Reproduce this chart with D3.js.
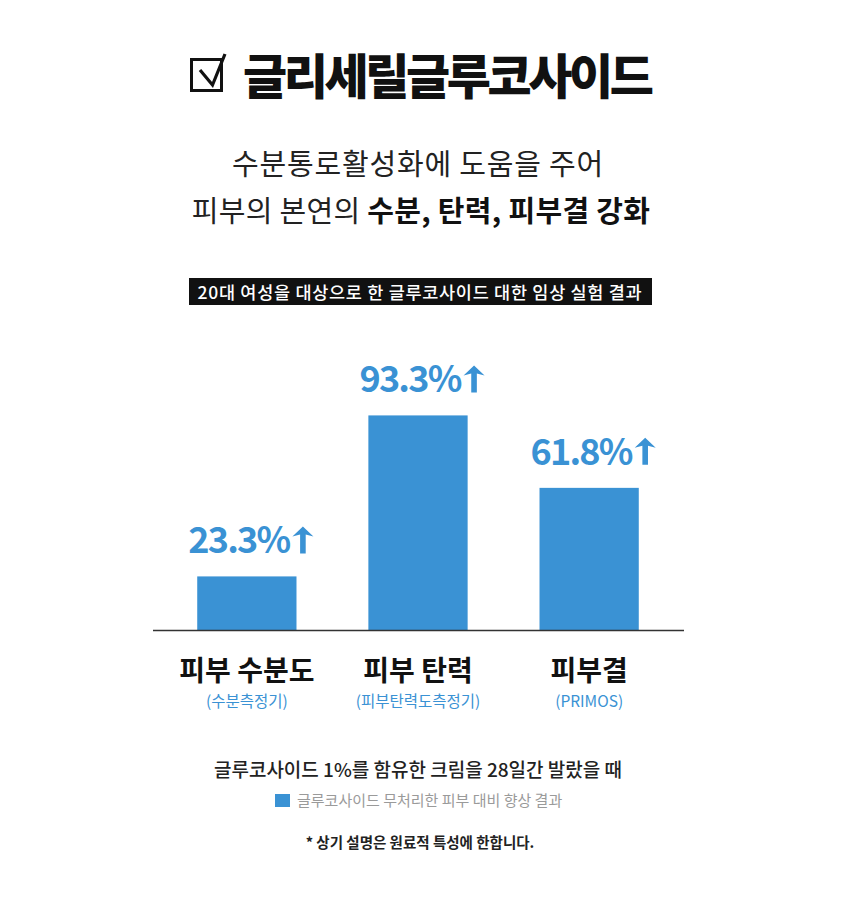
<!DOCTYPE html>
<html><head><meta charset="utf-8">
<script src="https://cdn.jsdelivr.net/npm/d3@7"></script>
<style>
html,body{margin:0;padding:0;background:#fff;}
svg{display:block;font-family:"Noto Sans CJK KR","Noto Sans",sans-serif;}
</style></head>
<body>
<svg id="c" width="848" height="924"></svg>
<script>
const categories = ["피부 수분도", "피부 탄력", "피부결"];
const instruments = ["(수분측정기)", "(피부탄력도측정기)", "(PRIMOS)"];
const values = [23.3, 93.3, 61.8];
const titleText = "글리세릴글루코사이드";
const subtitle1 = "수분통로활성화에 도움을 주어";
const subtitle2Plain = "피부의 본연의 ";
const subtitle2Bold = "수분, 탄력, 피부결 강화";
const bannerText = "20대 여성을 대상으로 한 글루코사이드 대한 임상 실험 결과";
const conditionText = "글루코사이드 1%를 함유한 크림을 28일간 발랐을 때";
const legendText = "글루코사이드 무처리한 피부 대비 향상 결과";
const footnoteText = "* 상기 설명은 원료적 특성에 한합니다.";

const BLUE = "#3a92d4";
const svg = d3.select("#c");
const cx = 420;

// Title with checkbox
const tg = svg.append("g");
tg.append("rect").attr("x",191.5).attr("y",59.5).attr("width",30).attr("height",31)
  .attr("fill","none").attr("stroke","#111").attr("stroke-width",3);
tg.append("path").attr("d","M200,70 L212.5,85 L225,54")
  .attr("fill","none").attr("stroke","#111").attr("stroke-width",3.2).attr("stroke-linejoin","miter");
tg.append("text").attr("x",243).attr("y",94)
  .attr("font-size",48).attr("font-weight",900).attr("letter-spacing","-3.4px")
  .attr("fill","#111").text(titleText);

// Subtitles
svg.append("text").attr("x",cx-2).attr("y",175).attr("text-anchor","middle")
  .attr("font-size",29).attr("font-weight",400).attr("letter-spacing","0.8px").attr("fill","#222")
  .text(subtitle1);
const s2 = svg.append("text").attr("x",cx+1).attr("y",222).attr("text-anchor","middle")
  .attr("font-size",29).attr("letter-spacing","0.3px").attr("fill","#222");
s2.append("tspan").attr("font-weight",400).text(subtitle2Plain);
s2.append("tspan").attr("font-weight",700).attr("fill","#111").text(subtitle2Bold);

// Banner
svg.append("rect").attr("x",189).attr("y",278).attr("width",463).attr("height",27).attr("fill","#111");
svg.append("text").attr("x",cx).attr("y",299).attr("text-anchor","middle")
  .attr("font-size",17.5).attr("font-weight",500).attr("letter-spacing","0.7px").attr("fill","#fff")
  .text(bannerText);

// Chart
const baseY = 630;
const x = d3.scaleBand().domain(categories).range([163, 673]).paddingInner(0.42).paddingOuter(0.2);
const y = d3.scaleLinear().domain([0, 100]).range([baseY, baseY - 230]);

svg.selectAll("rect.bar").data(values).join("rect").attr("class","bar")
  .attr("x",(d,i)=>x(categories[i])).attr("width",x.bandwidth())
  .attr("y",d=>y(d)).attr("height",d=>baseY - y(d)).attr("fill",BLUE);

svg.append("line").attr("x1",153).attr("x2",684).attr("y1",baseY+0.5).attr("y2",baseY+0.5)
  .attr("stroke","#333").attr("stroke-width",1.6);

// Value labels with arrows
values.forEach((v,i)=>{
  const bx = x(categories[i]) + x.bandwidth()/2;
  const ty = y(v) - 23;
  const g = svg.append("g");
  const t = g.append("text").attr("x",0).attr("y",ty)
    .attr("font-size",36).attr("font-weight",700).attr("letter-spacing","-1.8px").attr("fill",BLUE)
    .text(v.toFixed(1) + "%");
  const w = t.node().getComputedTextLength();
  const W = w + 3 + 21;
  const x0 = bx + 4 - W/2;
  t.attr("x", x0);
  const ax = x0 + w + 3 + 10.5;
  const top = ty - 27;
  g.append("path")
    .attr("d",`M${ax-10.5},${top+10} L${ax},${top} L${ax+10.5},${top+10} L${ax+2.8},${top+8} L${ax+2.8},${ty} L${ax-2.8},${ty} L${ax-2.8},${top+8} Z`)
    .attr("fill",BLUE);
});

// Category labels
svg.selectAll("text.cat").data(categories).join("text").attr("class","cat")
  .attr("x",d=>x(d)+x.bandwidth()/2).attr("y",681).attr("text-anchor","middle")
  .attr("font-size",28).attr("font-weight",700).attr("letter-spacing","0px").attr("fill","#111")
  .text(d=>d);
svg.selectAll("text.inst").data(instruments).join("text").attr("class","inst")
  .attr("x",(d,i)=>x(categories[i])+x.bandwidth()/2).attr("y",707).attr("text-anchor","middle")
  .attr("font-size",15.5).attr("font-weight",400).attr("letter-spacing","0px").attr("fill",BLUE)
  .text(d=>d);

// Bottom notes
svg.append("text").attr("x",cx-2).attr("y",777).attr("text-anchor","middle")
  .attr("font-size",19).attr("font-weight",500).attr("letter-spacing","0px").attr("fill","#222")
  .text(conditionText);
svg.append("rect").attr("x",275).attr("y",794).attr("width",15).attr("height",13).attr("fill",BLUE);
svg.append("text").attr("x",297).attr("y",806)
  .attr("font-size",15).attr("font-weight",400).attr("letter-spacing","0px").attr("fill","#9a9a9a")
  .text(legendText);
svg.append("text").attr("x",cx).attr("y",848).attr("text-anchor","middle")
  .attr("font-size",14.5).attr("font-weight",700).attr("letter-spacing","0px").attr("fill","#222")
  .text(footnoteText);
</script>
</body></html>
